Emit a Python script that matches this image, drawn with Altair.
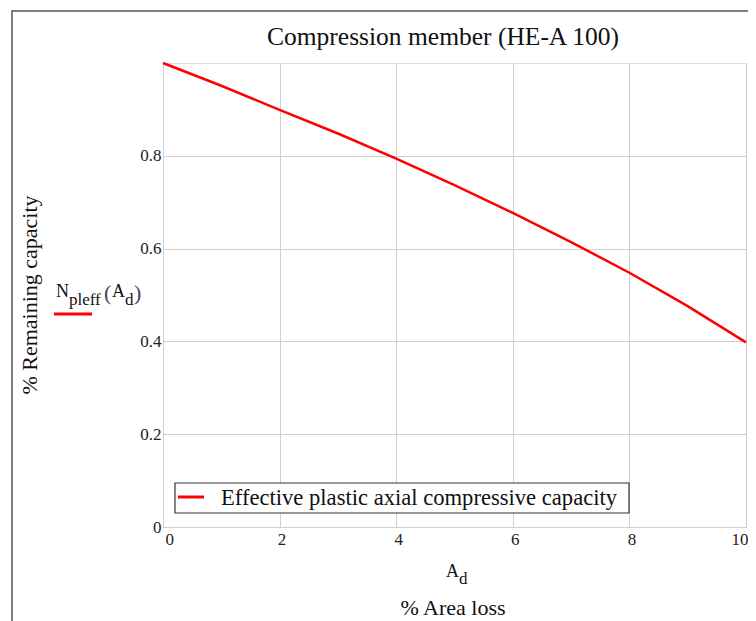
import altair as alt
import pandas as pd

# Data
area_loss = [0, 1, 2, 3, 4, 5, 6, 7, 8, 9, 10]
remaining = [1.0, 0.951, 0.899, 0.848, 0.794, 0.737, 0.677, 0.614, 0.548, 0.476, 0.398]
x_ticks = [0, 2, 4, 6, 8, 10]
y_ticks = [0, 0.2, 0.4, 0.6, 0.8]

title_text = "Compression member (HE-A 100)"
y_title = "% Remaining capacity"
x_title = "% Area loss"
legend_label = "Effective plastic axial compressive capacity"

FONT = "Liberation Serif"
RED = "#ff0000"
DARK = "#333333"

df = pd.DataFrame({"x": area_loss, "y": remaining})

W, H = 583, 464

x_scale = alt.Scale(domain=[0, 10], nice=False, zero=False)
y_scale = alt.Scale(domain=[0, 1], nice=False, zero=False)

line = alt.Chart(df).mark_line(color=RED, strokeWidth=2.5, clip=False).encode(
    x=alt.X("x:Q", scale=x_scale,
            axis=alt.Axis(values=x_ticks, title=None, domain=False, ticks=False,
                          grid=True, gridColor="#cfcfcf", gridWidth=1,
                          labelExpr="'' + datum.value",
                          labelFont=FONT, labelFontSize=17, labelColor="#222",
                          labelPadding=4, labelOffset=2, labelFlush=True)),
    y=alt.Y("y:Q", scale=y_scale,
            axis=alt.Axis(values=y_ticks, title=None, domain=False, ticks=False,
                          grid=True, gridColor="#cfcfcf", gridWidth=1,
                          labelExpr="'' + datum.value",
                          labelFont=FONT, labelFontSize=17, labelColor="#222",
                          labelPadding=2, labelFlush=False)),
)

def txt(s, x, y, size, color="#111", **kw):
    return alt.Chart(pd.DataFrame({"t": [s]})).mark_text(
        font=FONT, fontSize=size, color=color, **kw
    ).encode(text="t:N", x=alt.value(x), y=alt.value(y))

# outer frame
frame = alt.Chart(pd.DataFrame({"a": [0]})).mark_rect(
    fill=None, stroke="#555555", strokeWidth=1.5
).encode(x=alt.value(-151), x2=alt.value(800), y=alt.value(-52), y2=alt.value(700))

# legend box
legend_box = alt.Chart(pd.DataFrame({"a": [0]})).mark_rect(
    fill="white", stroke=DARK, strokeWidth=1.2
).encode(x=alt.value(12), x2=alt.value(466), y=alt.value(420), y2=alt.value(450))
legend_line = alt.Chart(pd.DataFrame({"a": [0]})).mark_rule(
    color=RED, strokeWidth=3
).encode(x=alt.value(15), x2=alt.value(41), y=alt.value(434))
legend_text = txt(legend_label, 58, 435, 22.6, align="left", baseline="middle")

title = txt(title_text, 280, -26, 25.5, align="center", baseline="middle")
ytitle = txt(y_title, -133, 232, 22, align="center", baseline="middle", angle=270)

# N_pleff(A_d) annotation with subscripts
n1 = txt("N", -107, 234, 18, align="left", baseline="alphabetic")
n2 = txt("pleff", -94, 242, 17, align="left", baseline="alphabetic")
n3 = txt("(", -59, 237, 22, color="#445", align="left", baseline="alphabetic")
n4 = txt("A", -51, 234, 18, align="left", baseline="alphabetic")
n5 = txt("d", -38, 242, 17, align="left", baseline="alphabetic")
n6 = txt(")", -29, 237, 22, color="#445", align="left", baseline="alphabetic")
n_line = alt.Chart(pd.DataFrame({"a": [0]})).mark_rule(
    color=RED, strokeWidth=3
).encode(x=alt.value(-109), x2=alt.value(-71), y=alt.value(251))

# x axis labels
xa1 = txt("A", 283, 514, 18, align="left", baseline="alphabetic")
xa2 = txt("d", 296, 521, 17, align="left", baseline="alphabetic")
xt = txt(x_title, 290, 545, 22, align="center", baseline="middle")

chart = alt.layer(
    frame, line, legend_box, legend_line, legend_text, title, ytitle,
    n1, n2, n3, n4, n5, n6, n_line, xa1, xa2, xt
).properties(
    width=W, height=H,
    autosize=alt.AutoSizeParams(type="none"),
    padding={"left": 155, "top": 55, "right": 2, "bottom": 94},
).configure_view(
    stroke=DARK, strokeWidth=1.5
).configure(background="white")

chart.save("out.html", embed_options={"renderer": "svg", "actions": False})
